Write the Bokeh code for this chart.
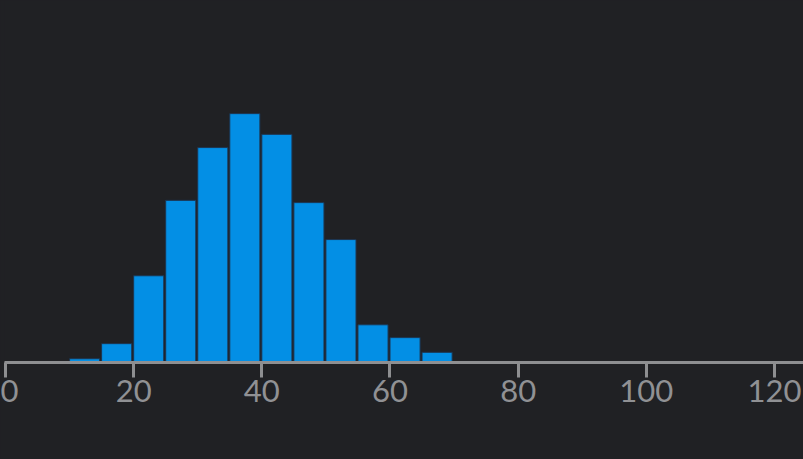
import numpy as np
from bokeh.plotting import figure
from bokeh.models import FixedTicker, ColumnDataSource
from bokeh.embed import file_html
from bokeh.resources import INLINE

# histogram data (bin edges width 5, counts)
bin_left = [10, 15, 20, 25, 30, 35, 40, 45, 50, 55, 60, 65]
bin_right = [15, 20, 25, 30, 35, 40, 45, 50, 55, 60, 65, 70]
counts = [1, 5, 23, 43, 57, 66, 60.5, 42.4, 32.6, 10, 6.6, 2.7]
x_ticks = [0, 20, 40, 60, 80, 100, 120]

BG = "#202124"
BAR = "#038fe5"
AXIS = "#8e8f91"
LABEL = "#909194"

src = ColumnDataSource(dict(left=bin_left, right=[r - 0.3 for r in bin_right],
                            top=counts, bottom=[0] * len(counts)))

p = figure(width=803, height=459, output_backend="svg", toolbar_location=None,
           x_range=(-0.156, 124.53), y_range=(0, 96.0),
           y_axis_location=None, min_border_left=4, min_border_right=0,
           min_border_top=0, min_border_bottom=97)
p.background_fill_color = BG
p.border_fill_color = BG
p.outline_line_color = None
p.grid.visible = False

p.quad(left="left", right="right", top="top", bottom="bottom", source=src,
       fill_color=BAR, line_color="#1d3550", line_width=1)

ax = p.xaxis[0]
ax.ticker = FixedTicker(ticks=x_ticks)
ax.minor_tick_line_color = None
ax.axis_line_color = AXIS
ax.axis_line_width = 3
ax.major_tick_line_color = AXIS
ax.major_tick_line_width = 3
ax.major_tick_in = 0
ax.major_tick_out = 15
ax.major_label_text_font = "Lato"
ax.major_label_text_font_size = "31px"
ax.major_label_text_color = LABEL
ax.major_label_standoff = 2

html = file_html(p, INLINE)
html = html.replace("<head>", "<head><style>html,body{margin:0;padding:0;background:#202124;overflow:hidden;}</style>", 1)
open("out.html", "w").write(html)
